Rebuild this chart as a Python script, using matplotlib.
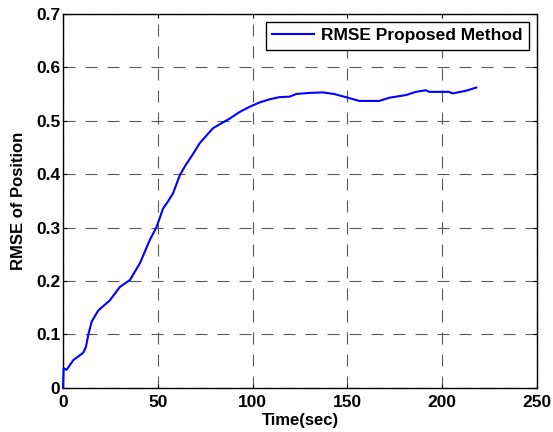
import matplotlib
matplotlib.use("Agg")
import matplotlib.pyplot as plt

# RMSE of the estimated position over time
tiempo = [0, 0.3, 1.9, 5.4, 10.7, 12.1, 13.3, 15.1, 18.6, 24.7, 30, 35.3, 40.5,
          45.8, 49.3, 52.8, 55, 58, 61.6, 64.5, 67.7, 72.1, 79.1, 83.5, 87.9,
          93, 98.4, 103.5, 108.9, 114, 119.5, 123, 130, 137, 143, 149.3, 156.3,
          166.8, 172.1, 180.9, 186.1, 191.4, 193.2, 203.7, 205.4, 212.5, 218]
rmse = [0.0, 0.037, 0.034, 0.052, 0.066, 0.077, 0.099, 0.124, 0.145, 0.164,
        0.189, 0.202, 0.233, 0.277, 0.301, 0.336, 0.347, 0.364, 0.398, 0.416,
        0.433, 0.458, 0.486, 0.495, 0.504, 0.516, 0.526, 0.534, 0.540, 0.544,
        0.545, 0.550, 0.552, 0.553, 0.550, 0.544, 0.537, 0.537, 0.543, 0.548,
        0.554, 0.557, 0.554, 0.554, 0.551, 0.556, 0.562]

plt.rcParams['font.family'] = ['Liberation Sans', 'DejaVu Sans']
plt.rcParams['font.weight'] = 'bold'

fig = plt.figure(figsize=(5.53, 4.32), dpi=100)
ax = fig.add_axes([0.114, 0.102, 0.857, 0.866])

ax.plot(tiempo, rmse, color=(0, 0, 1), linewidth=1.5,
        label='RMSE Proposed Method', zorder=5, clip_on=False)

ax.set_xlim(0, 250)
ax.set_ylim(0, 0.7)
ax.set_xticks([0, 50, 100, 150, 200, 250])
ax.set_yticks([0, 0.1, 0.2, 0.3, 0.4, 0.5, 0.6, 0.7])
ax.set_yticklabels(['0', '0.1', '0.2', '0.3', '0.4', '0.5', '0.6', '0.7'])
ax.tick_params(direction='in', length=3, width=0.8, top=True, right=True,
               labelsize=12.5, pad=2)
ax.tick_params(axis='x', pad=5)
for etiqueta in ax.get_xticklabels() + ax.get_yticklabels():
    etiqueta.set_fontweight('bold')

ax.grid(True, color='0.35', linewidth=0.8, linestyle=(0, (10.8, 9)))
for lado in ax.spines.values():
    lado.set_linewidth(1.0)

ax.set_xlabel('Time(sec)', fontsize=12, fontweight='bold', labelpad=2)
ax.set_ylabel('RMSE of Position', fontsize=12, fontweight='bold', labelpad=7)

leg = ax.legend(loc='upper right', fontsize=12.5, frameon=True, fancybox=False,
                borderaxespad=0.45, handlelength=2.4, borderpad=0.38,
                handletextpad=0.4)
leg.get_frame().set_edgecolor('black')
leg.get_frame().set_linewidth(1.0)
leg.get_frame().set_alpha(1)

fig.savefig('out.png', dpi=100)
